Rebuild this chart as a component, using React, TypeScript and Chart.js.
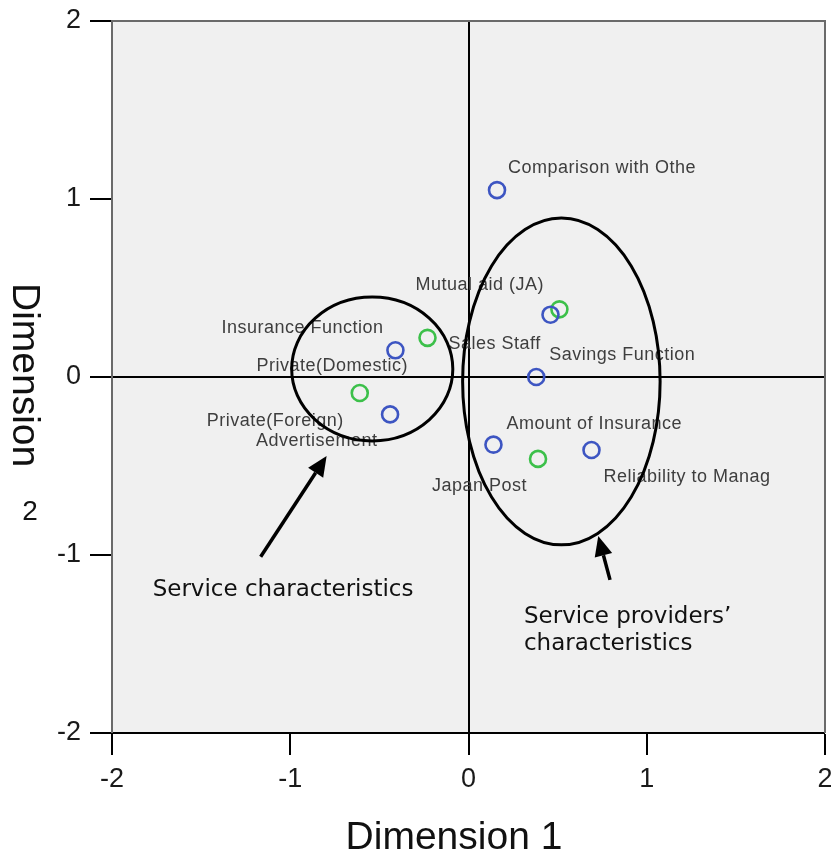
import { useEffect, useRef } from 'react';
import { Chart, registerables } from 'chart.js';

Chart.register(...registerables);

// ---- data ----
const characteristicLabels = [
  'Comparison with Othe',
  'Sales Staff',
  'Insurance Function',
  'Savings Function',
  'Advertisement',
  'Amount of Insurance',
  'Reliability to Manag',
];
const characteristicX = [0.16, 0.46, -0.41, 0.38, -0.44, 0.14, 0.69];
const characteristicY = [1.05, 0.35, 0.15, 0.0, -0.21, -0.38, -0.41];

const providerLabels = ['Mutual aid (JA)', 'Private(Domestic)', 'Private(Foreign)', 'Japan Post'];
const providerX = [0.51, -0.23, -0.61, 0.39];
const providerY = [0.38, 0.22, -0.09, -0.46];

const axisTicks = [-2, -1, 0, 1, 2];

// annotation shapes (data units)
const groupEllipses = [
  { cx: -0.54, cy: 0.045, rx: 0.452, ry: 0.404 },
  { cx: 0.521, cy: -0.025, rx: 0.554, ry: 0.918 },
];
const groupArrows = [
  { fromX: -1.166, fromY: -1.01, toX: -0.796, toY: -0.444 },
  { fromX: 0.794, fromY: -1.14, toX: 0.728, toY: -0.893 },
];
const groupNotes = [
  { x: -1.772, y: -1.23, lines: ['Service characteristics'] },
  { x: 0.311, y: -1.382, lines: ['Service providers\u2019', 'characteristics'] },
];

// label placement offsets (pixels, left / baseline relative to point)
const characteristicOffsets = [
  [11, -17], [-102, 34], [-174, -17], [13, -17], [-134, 32], [13, -16], [12, 32],
];
const providerOffsets = [[-144, -19], [-171, 33], [-153, 33], [-106, 32]];

const BLUE = '#3d55c2';
const GREEN = '#3cc04a';

export default function App() {
  const ref = useRef<HTMLCanvasElement | null>(null);

  useEffect(() => {
    document.body.style.margin = '0';
    const canvas = ref.current;
    if (!canvas) return;

    const decor = {
      id: 'decor',
      beforeDraw(chart: any) {
        const { ctx, chartArea: a } = chart;
        ctx.save();
        ctx.fillStyle = '#f0f0f0';
        ctx.fillRect(a.left, a.top, a.right - a.left, a.bottom - a.top);
        ctx.restore();
      },
      afterDraw(chart: any) {
        const { ctx, chartArea: a } = chart;
        const xs = chart.scales.x;
        const ys = chart.scales.y;
        ctx.save();
        // frame top/right
        ctx.strokeStyle = '#6a6a6a';
        ctx.lineWidth = 2;
        ctx.beginPath();
        ctx.moveTo(a.left, a.top);
        ctx.lineTo(a.right, a.top);
        ctx.lineTo(a.right, a.bottom);
        ctx.stroke();

        // point labels
        ctx.fillStyle = '#3e3e3e';
        ctx.font = '18px "Liberation Sans", Arial, sans-serif';
        (ctx as any).letterSpacing = '0.5px';
        ctx.textAlign = 'left';
        ctx.textBaseline = 'alphabetic';
        const drawLabels = (labels: string[], xv: number[], yv: number[], off: number[][]) => {
          labels.forEach((t, i) => {
            const px = xs.getPixelForValue(xv[i]);
            const py = ys.getPixelForValue(yv[i]);
            ctx.fillText(t, px + off[i][0], py + off[i][1]);
          });
        };
        drawLabels(characteristicLabels, characteristicX, characteristicY, characteristicOffsets);
        drawLabels(providerLabels, providerX, providerY, providerOffsets);
        (ctx as any).letterSpacing = '0px';

        // ellipses
        ctx.strokeStyle = '#000';
        ctx.lineWidth = 3;
        groupEllipses.forEach((e) => {
          const cx = xs.getPixelForValue(e.cx);
          const cy = ys.getPixelForValue(e.cy);
          const rx = Math.abs(xs.getPixelForValue(e.cx + e.rx) - cx);
          const ry = Math.abs(ys.getPixelForValue(e.cy + e.ry) - cy);
          ctx.beginPath();
          ctx.ellipse(cx, cy, rx, ry, 0, 0, Math.PI * 2);
          ctx.stroke();
        });

        // arrows
        groupArrows.forEach((r) => {
          const x1 = xs.getPixelForValue(r.fromX);
          const y1 = ys.getPixelForValue(r.fromY);
          const x2 = xs.getPixelForValue(r.toX);
          const y2 = ys.getPixelForValue(r.toY);
          const ang = Math.atan2(y2 - y1, x2 - x1);
          const headLen = 20;
          const headW = 9;
          const bx = x2 - headLen * Math.cos(ang);
          const by = y2 - headLen * Math.sin(ang);
          ctx.beginPath();
          ctx.moveTo(x1, y1);
          ctx.lineTo(bx, by);
          ctx.lineWidth = 3.5;
          ctx.stroke();
          ctx.beginPath();
          ctx.moveTo(x2, y2);
          ctx.lineTo(bx + headW * Math.sin(ang), by - headW * Math.cos(ang));
          ctx.lineTo(bx - headW * Math.sin(ang), by + headW * Math.cos(ang));
          ctx.closePath();
          ctx.fillStyle = '#000';
          ctx.fill();
        });

        // notes
        ctx.fillStyle = '#111';
        ctx.font = '23px "DejaVu Sans", Verdana, sans-serif';
        groupNotes.forEach((n) => {
          const px = xs.getPixelForValue(n.x);
          const py = ys.getPixelForValue(n.y);
          n.lines.forEach((l, i) => ctx.fillText(l, px, py + i * 27));
        });

        // axis titles
        ctx.fillStyle = '#111';
        ctx.font = '39px "Liberation Sans", Arial, sans-serif';
        ctx.textAlign = 'center';
        ctx.fillText('Dimension 1', 454, 849);
        ctx.save();
        ctx.translate(13, 283);
        ctx.rotate(Math.PI / 2);
        ctx.textAlign = 'left';
        ctx.fillText('Dimension', 0, 0);
        ctx.restore();
        ctx.font = '28px "Liberation Sans", Arial, sans-serif';
        ctx.textAlign = 'center';
        ctx.fillText('2', 30, 520);
        ctx.restore();
      },
    };

    const gridOpts = {
      drawOnChartArea: true,
      drawTicks: true,
      tickLength: 22,
      tickWidth: 2,
      tickColor: '#000',
      color: (c: any) => (c.tick && c.tick.value === 0 ? '#000' : 'rgba(0,0,0,0)'),
      lineWidth: (c: any) => (c.tick && c.tick.value === 0 ? 2 : 0),
    };

    const chart = new Chart(canvas, {
      type: 'scatter',
      data: {
        datasets: [
          {
            label: 'Characteristics',
            data: characteristicX.map((x, i) => ({ x, y: characteristicY[i] })),
            borderColor: BLUE,
            backgroundColor: 'rgba(0,0,0,0)',
            pointRadius: 8,
            pointBorderWidth: 2.6,
            pointHoverRadius: 8,
          },
          {
            label: 'Providers',
            data: providerX.map((x, i) => ({ x, y: providerY[i] })),
            borderColor: GREEN,
            backgroundColor: 'rgba(0,0,0,0)',
            pointRadius: 8,
            pointBorderWidth: 2.6,
            pointHoverRadius: 8,
          },
        ],
      },
      options: {
        responsive: false,
        devicePixelRatio: 1,
        animation: false,
        layout: { autoPadding: false, padding: { top: 21, right: 6, left: 0, bottom: 0 } },
        plugins: { legend: { display: false }, tooltip: { enabled: false } },
        scales: {
          x: {
            type: 'linear',
            min: -2,
            max: 2,
            afterBuildTicks: (s: any) => {
              s.ticks = axisTicks.map((v) => ({ value: v }));
            },
            afterFit: (s: any) => {
              s.height = 122;
              s.paddingLeft = 0;
              s.paddingRight = 0;
            },
            ticks: {
              color: '#1a1a1a',
              font: { family: '"Liberation Sans", Arial, sans-serif', size: 27 },
              padding: 8,
              maxRotation: 0,
            },
            grid: gridOpts as any,
            border: { display: true, color: '#000', width: 2 },
            title: { display: false },
          },
          y: {
            type: 'linear',
            min: -2,
            max: 2,
            afterBuildTicks: (s: any) => {
              s.ticks = axisTicks.map((v) => ({ value: v }));
            },
            afterFit: (s: any) => {
              s.width = 112;
              s.paddingTop = 0;
              s.paddingBottom = 0;
            },
            ticks: {
              color: '#1a1a1a',
              font: { family: '"Liberation Sans", Arial, sans-serif', size: 27 },
              padding: 9,
            },
            grid: gridOpts as any,
            border: { display: true, color: '#6a6a6a', width: 2 },
            title: { display: false },
          },
        },
      },
      plugins: [decor],
    });

    return () => chart.destroy();
  }, []);

  return (
    <div style={{ width: 831, height: 855, background: '#fff' }}>
      <canvas ref={ref} width={831} height={855} style={{ display: 'block', width: 831, height: 855 }} />
    </div>
  );
}
